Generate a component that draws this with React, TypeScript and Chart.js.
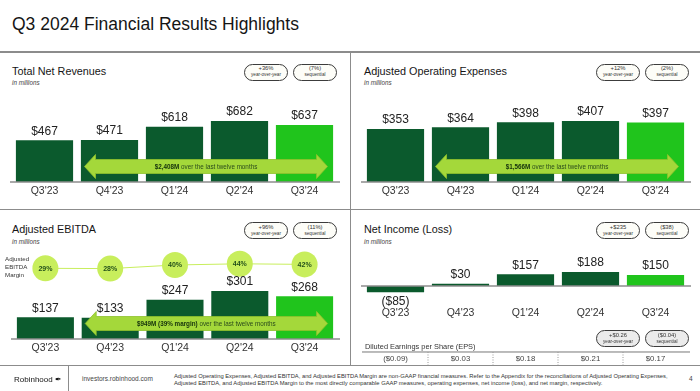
import React, { useEffect, useRef } from "react";
import { Chart, registerables } from "chart.js";

Chart.register(...registerables);

// ---------- data ----------
const quarters = ["Q3'23", "Q4'23", "Q1'24", "Q2'24", "Q3'24"];
const revenues = [467, 471, 618, 682, 637];
const opex = [353, 364, 398, 407, 397];
const ebitda = [137, 133, 247, 301, 268];
const ebitdaMargin = [29, 28, 40, 44, 42];
const netIncome = [-85, 30, 157, 188, 150];
const epsValues = ["($0.09)", "$0.03", "$0.18", "$0.21", "$0.17"];

const revenueBadges = ["+36%", "(7%)"];
const opexBadges = ["+12%", "(2%)"];
const ebitdaBadges = ["+96%", "(11%)"];
const netIncomeBadges = ["+$235", "($38)"];
const epsBadges = ["+$0.26", "($0.04)"];

const revenueArrow = ["$2,408M", " over the last twelve months"];
const opexArrow = ["$1,566M", " over the last twelve months"];
const ebitdaArrow = ["$949M (39% margin)", " over the last twelve months"];

const disclaimer = [
  "Adjusted Operating Expenses, Adjusted EBITDA, and Adjusted EBITDA Margin are non-GAAP financial measures. Refer to the Appendix for the reconciliations of Adjusted Operating Expenses,",
  "Adjusted EBITDA, and Adjusted EBITDA Margin to the most directly comparable GAAP measures, operating expenses, net income (loss), and net margin, respectively.",
];

// ---------- styles ----------
const FONT = '"Liberation Sans", Arial, sans-serif';
const DARK = "#0b5a2d";
const BRIGHT = "#20c41c";
const ARROW = "#a4d83a";
const CIRCLE = "#c8ee5c";
const RULE = "#8c8c8c";

const money = (v: number) => (v < 0 ? `($${Math.abs(v)})` : `$${v}`);

const slidePlugin = {
  id: "slideDecor",
  afterDatasetsDraw(chart: any, _args: any, opts: any) {
    const ctx = chart.ctx;
    const xs = chart.scales.x;
    const ys = chart.scales.y;
    const area = chart.chartArea;
    const y0 = ys.getPixelForValue(0);
    ctx.save();
    // baseline
    ctx.strokeStyle = RULE;
    ctx.lineWidth = 1.5;
    ctx.beginPath();
    ctx.moveTo(area.left - 2, y0);
    ctx.lineTo(area.right + 3, y0);
    ctx.stroke();

    // value labels
    const meta = chart.getDatasetMeta(0);
    const vals = chart.data.datasets[0].data;
    ctx.font = `12px ${FONT}`;
    ctx.fillStyle = "#222";
    ctx.textAlign = "center";
    ctx.textBaseline = "middle";
    meta.data.forEach((el: any, i: number) => {
      const v = vals[i];
      ctx.fillText(money(v), el.x, v >= 0 ? el.y - 9 : el.y + 9);
    });

    // arrow
    if (opts.arrow) {
      const x0 = xs.getPixelForValue(1) - 25;
      const x1 = xs.getPixelForValue(4) + 23;
      const yc = y0 - 15.5;
      const hl = 11, hh = 12, sh = 7;
      ctx.beginPath();
      ctx.moveTo(x0, yc);
      ctx.lineTo(x0 + hl, yc - hh);
      ctx.lineTo(x0 + hl, yc - sh);
      ctx.lineTo(x1 - hl, yc - sh);
      ctx.lineTo(x1 - hl, yc - hh);
      ctx.lineTo(x1, yc);
      ctx.lineTo(x1 - hl, yc + hh);
      ctx.lineTo(x1 - hl, yc + sh);
      ctx.lineTo(x0 + hl, yc + sh);
      ctx.lineTo(x0 + hl, yc + hh);
      ctx.closePath();
      ctx.fillStyle = ARROW;
      ctx.fill();
      ctx.strokeStyle = "#8fc22c";
      ctx.lineWidth = 0.8;
      ctx.stroke();
      const [b, n] = opts.arrow;
      ctx.font = `bold 6.3px ${FONT}`;
      const wb = ctx.measureText(b).width;
      ctx.font = `6.3px ${FONT}`;
      const wn = ctx.measureText(n).width;
      const sx = (x0 + x1) / 2 - (wb + wn) / 2;
      ctx.textAlign = "left";
      ctx.fillStyle = "#13300c";
      ctx.font = `bold 6.3px ${FONT}`;
      ctx.fillText(b, sx, yc + 0.5);
      ctx.font = `6.3px ${FONT}`;
      ctx.fillStyle = "#2a4a1c";
      ctx.fillText(n, sx + wb, yc + 0.5);
    }

    // margin circle texts
    if (opts.marginIndex != null) {
      const m = chart.getDatasetMeta(opts.marginIndex);
      const mv = chart.data.datasets[opts.marginIndex].data;
      ctx.font = `bold 7px ${FONT}`;
      ctx.fillStyle = "#23501a";
      ctx.textAlign = "center";
      ctx.textBaseline = "middle";
      m.data.forEach((p: any, i: number) => ctx.fillText(`${mv[i]}%`, p.x, p.y + 0.5));
    }

    // EPS table
    if (opts.eps) {
      const step = xs.getPixelForValue(1) - xs.getPixelForValue(0);
      ctx.font = `7.4px ${FONT}`;
      ctx.fillStyle = "#333";
      ctx.textAlign = "left";
      ctx.fillText("Diluted Earnings per Share (EPS)", area.left + 2, y0 + 61);
      ctx.strokeStyle = "#777";
      ctx.lineWidth = 1;
      ctx.beginPath();
      ctx.moveTo(area.left - 1, y0 + 66);
      ctx.lineTo(area.right + 2, y0 + 66);
      ctx.stroke();
      ctx.setLineDash([1, 1.5]);
      ctx.strokeStyle = "#999";
      for (let i = 0; i < 4; i++) {
        const x = xs.getPixelForValue(i) + step / 2;
        ctx.beginPath();
        ctx.moveTo(x, y0 + 66);
        ctx.lineTo(x, y0 + 79);
        ctx.stroke();
      }
      ctx.setLineDash([]);
      ctx.font = `7.8px ${FONT}`;
      ctx.fillStyle = "#444";
      ctx.textAlign = "center";
      opts.eps.forEach((t: string, i: number) => ctx.fillText(t, xs.getPixelForValue(i), y0 + 72.5));
    }
    ctx.restore();
  },
};

type PanelProps = {
  left: number;
  top: number;
  width: number;
  height: number;
  padding: { left: number; right: number; top: number; bottom: number };
  values: number[];
  yMin: number;
  yMax: number;
  arrow?: string[];
  margin?: number[];
  marginRange?: [number, number];
  eps?: string[];
};

function BarPanel(p: PanelProps) {
  const ref = useRef<HTMLCanvasElement | null>(null);
  useEffect(() => {
    if (!ref.current) return;
    const datasets: any[] = [
      {
        type: "bar",
        data: p.values,
        backgroundColor: p.values.map((_, i) => (i === p.values.length - 1 ? BRIGHT : DARK)),
        borderWidth: 0,
        barPercentage: 0.88,
        categoryPercentage: 1,
        order: 2,
      },
    ];
    const scales: any = {
      x: {
        grid: { display: false, drawTicks: false },
        border: { display: false },
        ticks: { font: { family: FONT, size: 10.5 }, color: "#333", padding: 3 },
        afterFit: (a: any) => {
          a.height = 16;
        },
      },
      y: { display: false, min: p.yMin, max: p.yMax },
    };
    if (p.margin && p.marginRange) {
      datasets.push({
        type: "line",
        data: p.margin,
        yAxisID: "y2",
        borderColor: CIRCLE,
        borderWidth: 1,
        pointRadius: 13,
        pointBackgroundColor: CIRCLE,
        pointBorderWidth: 0,
        clip: false,
        order: 0,
      });
      scales.y2 = { display: false, min: p.marginRange[0], max: p.marginRange[1] };
    }
    const chart = new Chart(ref.current, {
      type: "bar",
      data: { labels: quarters, datasets },
      options: {
        responsive: false,
        maintainAspectRatio: false,
        animation: false,
        layout: { padding: p.padding },
        plugins: {
          legend: { display: false },
          tooltip: { enabled: false },
          slideDecor: { arrow: p.arrow, marginIndex: p.margin ? 1 : null, eps: p.eps },
        } as any,
        scales,
      },
      plugins: [slidePlugin],
    } as any);
    return () => chart.destroy();
  }, []);
  return (
    <canvas
      ref={ref}
      width={p.width}
      height={p.height}
      style={{ position: "absolute", left: p.left, top: p.top, width: p.width, height: p.height }}
    />
  );
}

function Txt(props: { left: number; top: number; size: number; children: any; style?: any }) {
  return (
    <div
      style={{
        position: "absolute",
        left: props.left,
        top: props.top,
        fontSize: props.size,
        lineHeight: 1,
        fontFamily: FONT,
        color: "#151515",
        whiteSpace: "nowrap",
        ...props.style,
      }}
    >
      {props.children}
    </div>
  );
}

function Badge({ left, top, main, sub, fill }: { left: number; top: number; main: string; sub: string; fill?: string }) {
  return (
    <div
      style={{
        position: "absolute",
        left,
        top,
        width: 44,
        height: 17,
        boxSizing: "border-box",
        border: "1px solid #3c3c3c",
        borderRadius: 9,
        background: fill || "#fdfdf8",
        display: "flex",
        flexDirection: "column",
        alignItems: "center",
        justifyContent: "center",
        fontFamily: FONT,
        color: "#333",
        lineHeight: 1,
      }}
    >
      <div style={{ fontSize: 5.8 }}>{main}</div>
      <div style={{ fontSize: 4.6, marginTop: 1 }}>{sub}</div>
    </div>
  );
}

function Rule({ left, top, width, height }: { left: number; top: number; width: number; height: number }) {
  return <div style={{ position: "absolute", left, top, width, height, background: RULE }} />;
}

function PanelHead({ left, top, title, badges, bx }: { left: number; top: number; title: string; badges: string[]; bx: number }) {
  return (
    <>
      <Txt left={left} top={top} size={10.8}>
        {title}
      </Txt>
      <Txt left={left} top={top + 14.5} size={6.3} style={{ fontStyle: "italic", color: "#444" }}>
        in millions
      </Txt>
      <Badge left={bx} top={top - 2} main={badges[0]} sub="year-over-year" />
      <Badge left={bx + 49} top={top - 2} main={badges[1]} sub="sequential" />
    </>
  );
}

export default function App() {
  return (
    <div style={{ position: "absolute", left: 0, top: 0, width: 700, height: 391, background: "#fff", overflow: "hidden" }}>
      <Txt left={12} top={16} size={17.5}>
        Q3 2024 Financial Results Highlights
      </Txt>

      <Rule left={0} top={51} width={700} height={1.5} />
      <Rule left={0} top={208.5} width={700} height={1.5} />
      <Rule left={0} top={364.5} width={700} height={1.5} />
      <Rule left={349.5} top={51} width={1.5} height={315} />
      <Rule left={68} top={365} width={1} height={26} />

      <PanelHead left={12} top={65.5} title="Total Net Revenues" badges={revenueBadges} bx={244} />
      <PanelHead left={364} top={65.5} title="Adjusted Operating Expenses" badges={opexBadges} bx={596} />
      <PanelHead left={12} top={224} title="Adjusted EBITDA" badges={ebitdaBadges} bx={244} />
      <PanelHead left={364} top={224} title="Net Income (Loss)" badges={netIncomeBadges} bx={596} />

      <BarPanel left={0} top={95} width={350} height={110} padding={{ left: 12, right: 13, top: 10, bottom: 7 }} values={revenues} yMin={0} yMax={861} arrow={revenueArrow} />
      <BarPanel left={350} top={95} width={350} height={110} padding={{ left: 13, right: 12, top: 10, bottom: 7 }} values={opex} yMin={0} yMax={513} arrow={opexArrow} />
      <BarPanel left={0} top={245} width={350} height={120} padding={{ left: 12, right: 13, top: 10, bottom: 10 }} values={ebitda} yMin={0} yMax={509} arrow={ebitdaArrow} margin={ebitdaMargin} marginRange={[-205.6, 63.2]} />
      <BarPanel left={350} top={240} width={350} height={125} padding={{ left: 13, right: 12, top: 10, bottom: 45.6 }} values={netIncome} yMin={-235} yMax={486} eps={epsValues} />

      <Txt left={5} top={255} size={6.2} style={{ lineHeight: "8px", whiteSpace: "pre", color: "#333" }}>
        {"Adjusted\nEBITDA\nMargin"}
      </Txt>

      <Badge left={596} top={330} main={epsBadges[0]} sub="year-over-year" fill="#ebebeb" />
      <Badge left={645} top={330} main={epsBadges[1]} sub="sequential" fill="#ebebeb" />

      <Txt left={14} top={375.5} size={8}>
        Robinhood <span style={{ fontSize: 7.5 }}>✒</span>
      </Txt>
      <Txt left={82} top={376} size={6.5} style={{ color: "#444" }}>
        investors.robinhood.com
      </Txt>
      <Txt left={174} top={373} size={5.8} style={{ lineHeight: "7px", color: "#333" }}>
        <div>{disclaimer[0]}</div>
        <div>{disclaimer[1]}</div>
      </Txt>
      <Txt left={689} top={376} size={6.5} style={{ color: "#444" }}>
        4
      </Txt>
    </div>
  );
}
